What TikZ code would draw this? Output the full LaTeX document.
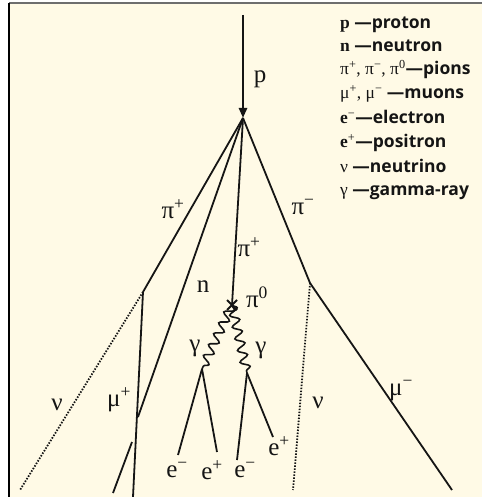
\documentclass[tikz,border=0pt]{standalone}
\usepackage{fontspec}
\setmainfont{Liberation Serif}
\newfontfamily\keyfont{Open Sans}
\usetikzlibrary{arrows.meta,calc,decorations.pathmorphing}
\definecolor{paper}{HTML}{FFFAE6}
\definecolor{ink}{HTML}{151515}
\definecolor{rulegray}{HTML}{6E6E6E}
\tikzset{
  track/.style={draw=ink,line width=1.8pt},
  beam/.style={draw=ink,line width=2.8pt,-{Triangle[length=10pt,width=8pt]}},
  nutrack/.style={draw=ink,line width=1.8pt,dash pattern=on 1.5pt off 1.5pt},
  photon/.style={draw=ink,line width=1.6pt,decorate,decoration={snake,amplitude=4.5pt,segment length=12pt}},
  lbl/.style={font=\fontsize{25}{25}\selectfont,text=ink,inner sep=0pt},
  keyline/.style={anchor=base west,inner sep=0pt,text=ink,font=\fontsize{17.5}{18}\selectfont}
}
\newcommand{\kw}[1]{{\keyfont\bfseries #1}}
\newcommand{\up}[1]{\textsuperscript{#1}}

\begin{document}
\begin{tikzpicture}[x=1pt,y=-1pt]
  \fill[white] (0,0) rectangle (482,497);
  \fill[paper] (9,3) rectangle (482,497);
  \useasboundingbox (0,0) rectangle (482,497);
  \draw[rulegray,line width=2pt] (9,3) -- (482,3);
  \draw[black,line width=1.6pt] (9,3) -- (9,497);
  % vertices of the shower
  \coordinate (top) at (243,15);
  \coordinate (vtx) at (243,118);
  \coordinate (pipdecay) at (143,292);
  \coordinate (pimdecay) at (310,283);
  \coordinate (nend) at (138,417);
  \coordinate (mupend) at (133,497);
  \coordinate (mumend) at (452,490);
  \coordinate (nuLend) at (20,490);
  \coordinate (nuRend) at (293,490);
  \coordinate (pizero) at (232,305);
  \coordinate (gL) at (202,369);
  \coordinate (gR) at (247,373);
  \coordinate (eLm) at (178,455);
  \coordinate (eLp) at (217,452);
  \coordinate (eRm) at (237,460);
  \coordinate (eRp) at (273,437);
  \coordinate (stubtop) at (132,442);
  \coordinate (stubend) at (113,493);
  % tracks
  \draw[beam] (top) -- (vtx);
  \draw[track] (vtx) -- (pipdecay);
  \draw[track] (pipdecay) -- (mupend);
  \draw[nutrack] (pipdecay) -- (nuLend);
  \draw[track] (vtx) -- (nend);
  \draw[track] (stubtop) -- (stubend);
  \draw[track] (vtx) -- (pizero);
  \draw[track] ($(pizero)+(-5,-5)$) -- ($(pizero)+(5,5)$);
  \draw[track] ($(pizero)+(-5,5)$) -- ($(pizero)+(5,-5)$);
  \draw[photon] (pizero) -- (gL);
  \draw[photon] (pizero) -- (gR);
  \draw[track] (gL) -- (eLm);
  \draw[track] (gL) -- (eLp);
  \draw[track] (gR) -- (eRm);
  \draw[track] (gR) -- (eRp);
  \draw[track] (vtx) -- (pimdecay);
  \draw[track] (pimdecay) -- (mumend);
  \draw[nutrack] (pimdecay) -- (nuRend);
  % labels
  \node[lbl,anchor=base] (plbl) at (260,83) {p};
  \node[lbl] (piplbl) at (173,209) {π\up{+}};
  \node[lbl] (pimlbl) at (303,207) {π\up{−}};
  \node[lbl] (picplbl) at (249,247) {π\up{+}};
  \node[lbl] (nlbl) at (203,287) {n};
  \node[lbl] (pi0lbl) at (257,297) {π\up{0}};
  \node[lbl] (gLlbl) at (195,348) {γ};
  \node[lbl] (gRlbl) at (261,350) {γ};
  \node[lbl] (muplbl) at (119,400) {μ\up{+}};
  \node[lbl] (mumlbl) at (401,391) {μ\up{−}};
  \node[lbl] (nuLlbl) at (57,405) {ν};
  \node[lbl] (nuRlbl) at (318,403) {ν};
  \node[lbl] (eLmlbl) at (177,470) {e\up{−}};
  \node[lbl] (eLplbl) at (212,470) {e\up{+}};
  \node[lbl] (eRmlbl) at (245,470) {e\up{−}};
  \node[lbl] (eRplbl) at (279,446) {e\up{+}};
  % key
  \node[keyline] (kp) at (340,29) {\textbf{p} \kw{—proton}};
  \node[keyline] (kn) at (340,52) {\textbf{n} \kw{—neutron}};
  \node[keyline] (kpi) at (340,75) {π\up{+}, π\up{−}, π\up{0}\kw{—pions}};
  \node[keyline] (kmu) at (340,99) {μ\up{+}, μ\up{−} \kw{—muons}};
  \node[keyline] (kem) at (340,124) {\textbf{e}\up{−}\kw{—electron}};
  \node[keyline] (kep) at (340,148) {\textbf{e}\up{+}\kw{—positron}};
  \node[keyline] (knu) at (340,172) {ν \kw{—neutrino}};
  \node[keyline] (kg) at (340,195) {γ \kw{—gamma-ray}};
\end{tikzpicture}
\end{document}
